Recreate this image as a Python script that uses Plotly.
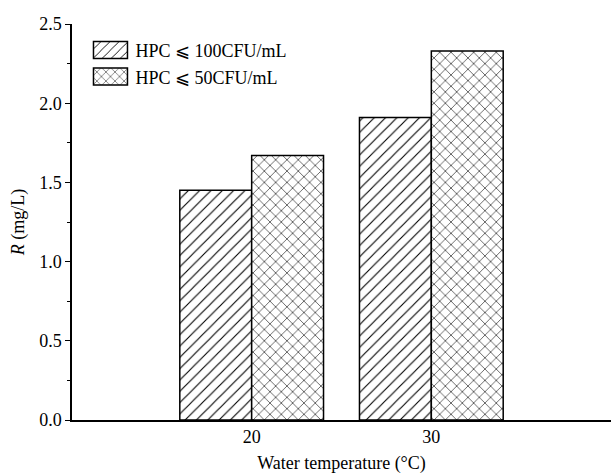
import plotly.graph_objects as go

temps = [20, 30]
series_names = ["HPC ⩽ 100CFU/mL", "HPC ⩽ 50CFU/mL"]
r_100 = [1.45, 1.91]
r_50 = [1.67, 2.33]

FONT = "Liberation Serif, Times New Roman, serif"

fig = go.Figure()
fig.add_trace(go.Bar(
    x=temps, y=r_100, name=series_names[0], width=4, offset=-4,
    marker=dict(color="white", line=dict(color="black", width=1.5),
                pattern=dict(shape="/", fgcolor="black", bgcolor="white", size=8,
                             solidity=0.14, fgopacity=1)),
))
fig.add_trace(go.Bar(
    x=temps, y=r_50, name=series_names[1], width=4, offset=0,
    marker=dict(color="white", line=dict(color="black", width=1.5),
                pattern=dict(shape="x", fgcolor="black", bgcolor="white", size=8,
                             solidity=0.14, fgopacity=1)),
))

fig.update_layout(
    width=611, height=474,
    margin=dict(l=72, r=0, t=24, b=54),
    paper_bgcolor="white", plot_bgcolor="white",
    font=dict(family=FONT, size=18, color="black"),
    barmode="overlay",
    showlegend=True,
    legend=dict(x=0.025, y=0.98, xanchor="left", yanchor="top",
                bgcolor="rgba(0,0,0,0)", font=dict(size=18, family=FONT),
                itemwidth=40, tracegroupgap=1),
    xaxis=dict(range=[10, 40], tickvals=temps, ticktext=[str(t) for t in temps],
               showline=True, linecolor="black", linewidth=1.5, ticks="",
               showgrid=False, zeroline=False, tickfont=dict(size=18),
               title=dict(text="Water temperature (°C)", standoff=10, font=dict(size=18))),
    yaxis=dict(range=[0, 2.5], dtick=0.5, tickformat=".1f",
               showline=True, linecolor="black", linewidth=1.5,
               ticks="outside", ticklen=5, tickwidth=1, tickcolor="black",
               minor=dict(dtick=0.25, ticks="outside", ticklen=3, tickcolor="black", tickwidth=1),
               showgrid=False, zeroline=False, tickfont=dict(size=18),
               title=dict(text="<i>R</i> (mg/L)", standoff=10, font=dict(size=18))),
)

post = """
document.body.style.margin='0';
var gd = document.getElementById('{plot_id}');
function enlargeLegendSwatches() {
  document.querySelectorAll('.legend .legendpoints path').forEach(function(p) {
    p.setAttribute('d', 'M17,8.5H-17V-8.5H17Z');
  });
}
enlargeLegendSwatches();
setTimeout(enlargeLegendSwatches, 0);
if (gd && gd.on) { gd.on('plotly_afterplot', enlargeLegendSwatches); }
"""

fig.write_html("out.html", post_script=post, config={"displayModeBar": False})
